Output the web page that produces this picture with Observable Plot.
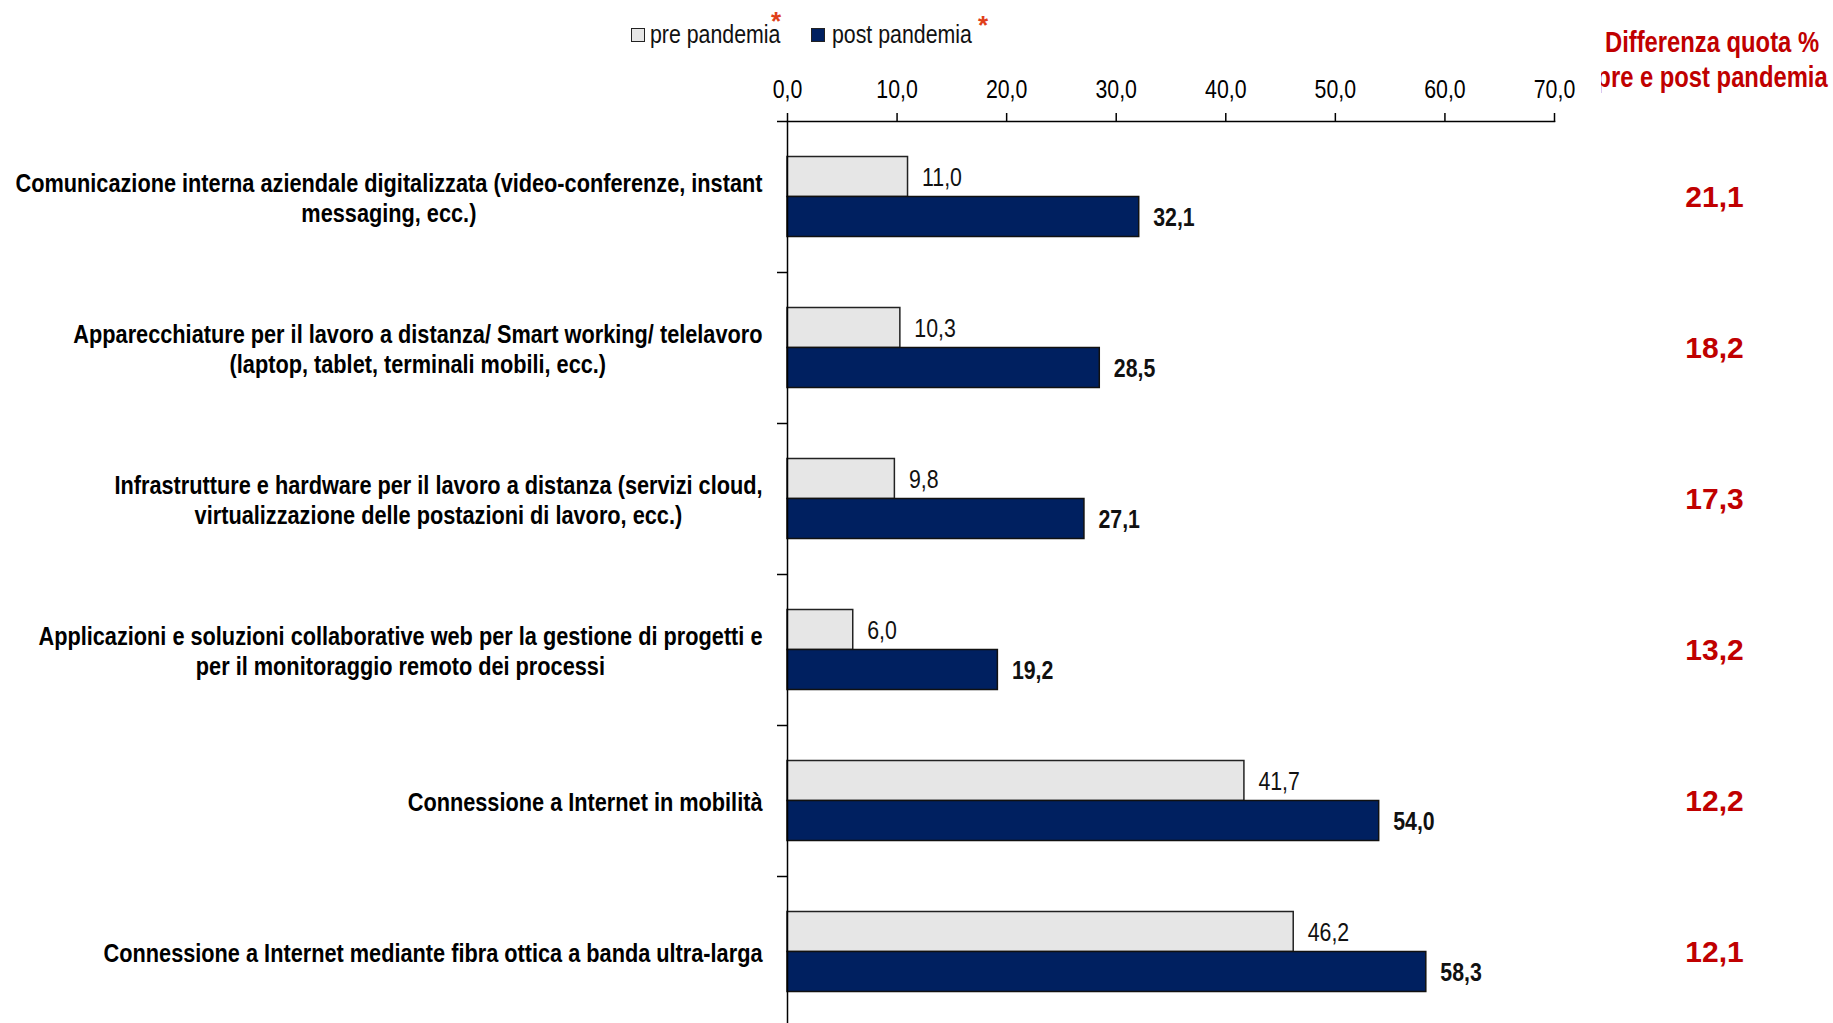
<!DOCTYPE html>
<html>
<head>
<meta charset="utf-8">
<script src="https://cdn.jsdelivr.net/npm/d3@7"></script>
<script src="https://cdn.jsdelivr.net/npm/@observablehq/plot@0.6"></script>
<style>
  html, body { margin: 0; padding: 0; background: #fff; overflow: hidden; }
  #wrap { position: relative; width: 1833px; height: 1023px; overflow: hidden; background: #fff; }
  #wrap svg { position: absolute; left: 0; top: 0; }
  .narrow { font-family: 'Liberation Sans', Arial, sans-serif; }
  #legend { position: absolute; left: 628px; top: 20px; font-size: 26px; color: #111; white-space: nowrap; }
  #legend .box { position: absolute; width: 12px; height: 12px; border: 1px solid #222; top: 8px; }
  #legend .lab { position: absolute; top: -1px; display: inline-block; transform: scaleX(0.82); transform-origin: left center; }
  #legend .star { position: absolute; color: #E0401A; font-weight: bold; font-size: 26px; }
  #head { position: absolute; left: 1601px; top: 25px; width: 232px; height: 80px; overflow: hidden; }
  #head div { position: absolute; left: -39px; top: 0; width: 300px; text-align: center; color: #C00000; font-weight: bold; font-size: 29px; line-height: 35px; transform: scaleX(0.82); transform-origin: center; }
</style>
</head>
<body>
<div id="wrap">
  <div id="legend" class="narrow"></div>
  <div id="head" class="narrow"><div></div></div>
</div>
<script>
const categories = [
  "Comunicazione interna aziendale digitalizzata (video-conferenze, instant\nmessaging, ecc.)",
  "Apparecchiature per il lavoro a distanza/ Smart working/ telelavoro\n(laptop, tablet, terminali mobili, ecc.)",
  "Infrastrutture e hardware per il lavoro a distanza (servizi cloud,\nvirtualizzazione delle postazioni di lavoro, ecc.)",
  "Applicazioni e soluzioni collaborative web per la gestione di progetti e\nper il monitoraggio remoto dei processi",
  "Connessione a Internet in mobilità",
  "Connessione a Internet mediante fibra ottica a banda ultra-larga"
];
const prePandemia  = [11.0, 10.3, 9.8, 6.0, 41.7, 46.2];
const postPandemia = [32.1, 28.5, 27.1, 19.2, 54.0, 58.3];
const differenza   = [21.1, 18.2, 17.3, 13.2, 12.2, 12.1];
const xTicks = [0, 10, 20, 30, 40, 50, 60, 70];
const seriesNames = ["pre pandemia", "post pandemia"];
const headerLines = ["Differenza quota %", "pre e post pandemia"];

const fmt = v => v.toFixed(1).replace(".", ",");
const FONT = "'Liberation Sans', Arial, sans-serif";
const NARROW_SCALE = 0.82;
const colors = ["#E6E6E6", "#002060"];
const RED = "#C00000";

const rows = categories.map((c, i) => ({c, pre: prePandemia[i], post: postPandemia[i], diff: differenza[i]}));

const chart = Plot.plot({
  width: 1833,
  height: 1023,
  marginLeft: 787,
  marginRight: 279,
  marginTop: 121,
  marginBottom: -4,
  style: {fontFamily: FONT, fontSize: "26px", color: "#000", background: "transparent", overflow: "visible"},
  x: {domain: [0, 70], ticks: xTicks},
  y: {domain: categories, padding: 0},
  marks: [
    Plot.barX(rows, {x: "pre", y: "c", fill: colors[0], stroke: "#222", strokeWidth: 1.5, insetTop: 35.5, insetBottom: 75.5}),
    Plot.barX(rows, {x: "post", y: "c", fill: colors[1], stroke: "#111", strokeWidth: 1.5, insetTop: 75.5, insetBottom: 35.5}),
    Plot.text(rows, {x: "pre", y: "c", text: d => fmt(d.pre), dx: 14, dy: -19, textAnchor: "start", fontSize: 26, fill: "#111"}),
    Plot.text(rows, {x: "post", y: "c", text: d => fmt(d.post), dx: 14, dy: 21, textAnchor: "start", fontSize: 26, fontWeight: "bold", fill: "#111"}),
    Plot.text(rows, {y: "c", text: d => fmt(d.diff), frameAnchor: "right", dx: 160, textAnchor: "middle", fill: RED, fontWeight: "bold", fontSize: 30}),
    Plot.ruleX([0], {stroke: "#000", strokeWidth: 1.5}),
    Plot.frame({anchor: "top", stroke: "#000", strokeWidth: 1.5}),
    Plot.axisX({anchor: "top", ticks: xTicks, tickSize: 9, tickPadding: 15, tickFormat: fmt, fontSize: 26, label: null, stroke: "#000", strokeWidth: 1.5}),
    Plot.axisY({anchor: "left", tickSize: 10, tickFormat: () => "", dy: -75.5, label: null, stroke: "#000", strokeWidth: 1.5}),
    Plot.axisY({anchor: "left", tickSize: 0, tickPadding: 25, fontSize: 26.5, fontWeight: "bold", lineHeight: 1.15, label: null})
  ]
});
document.getElementById("wrap").appendChild(chart);

// narrow type (Arial Narrow look): condense every SVG text except the red difference values
chart.querySelectorAll("text").forEach(t => {
  const fill = getComputedStyle(t).fill;
  if (fill === "rgb(192, 0, 0)") return;
  // center multi-line labels relative to their widest line
  const spans = t.querySelectorAll("tspan");
  if (spans.length > 1) {
    const ws = [...spans].map(s => s.getComputedTextLength());
    const m = Math.max(...ws);
    spans.forEach((s, i) => {
      const x0 = parseFloat(s.getAttribute("x")) || 0;
      s.setAttribute("x", x0 - (m - ws[i]) / 2);
    });
  }
  const tr = t.getAttribute("transform") || "";
  t.setAttribute("transform", (tr + ` scale(${NARROW_SCALE},1)`).trim());
});

// legend
const legend = document.getElementById("legend");
const lx = [[3, 22, 143, -14], [183, 204, 350, -10]];
seriesNames.forEach((name, i) => {
  const box = document.createElement("div");
  box.className = "box"; box.style.left = lx[i][0] + "px"; box.style.background = colors[i];
  const lab = document.createElement("div");
  lab.className = "lab"; lab.style.left = lx[i][1] + "px"; lab.textContent = name;
  const star = document.createElement("div");
  star.className = "star"; star.style.left = lx[i][2] + "px"; star.style.top = lx[i][3] + "px"; star.textContent = "*";
  legend.append(box, lab, star);
});
document.querySelector("#head div").innerHTML = headerLines.join("<br>");
</script>
</body>
</html>
